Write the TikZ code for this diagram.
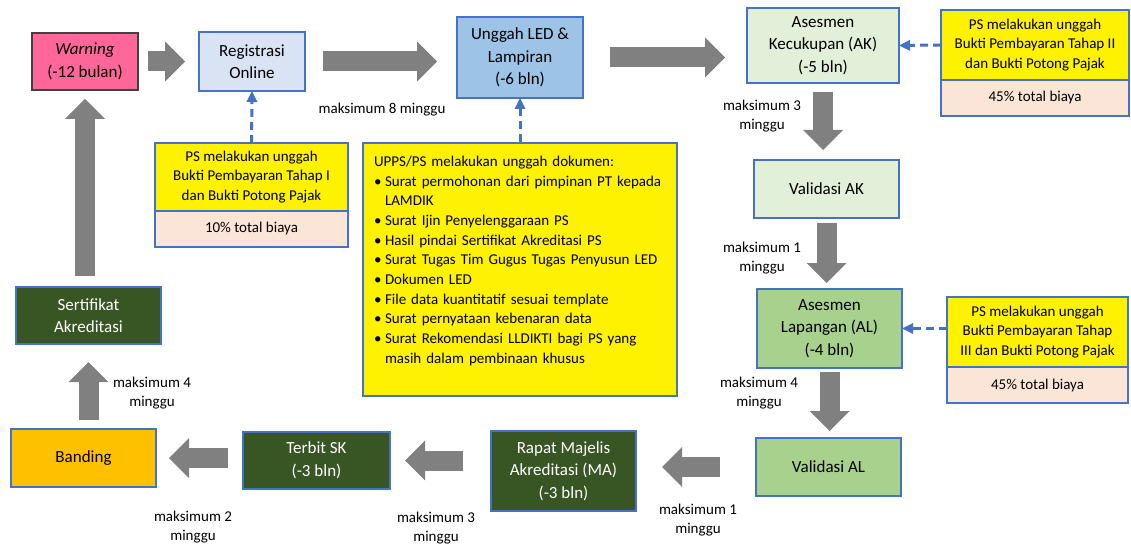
\documentclass[tikz,border=0pt]{standalone}
\usepackage{fontspec}
\setmainfont{Carlito}
\usepackage{tikz}
\usetikzlibrary{arrows.meta,positioning,calc}

\definecolor{boxblue}{RGB}{68,114,196}
\definecolor{pinkred}{RGB}{255,102,153}
\definecolor{paleblue}{RGB}{218,227,243}
\definecolor{midblue}{RGB}{157,195,230}
\definecolor{palegreen}{RGB}{226,240,217}
\definecolor{midgreen}{RGB}{169,209,142}
\definecolor{darkgreen}{RGB}{55,86,35}
\definecolor{amber}{RGB}{255,192,0}
\definecolor{peach}{RGB}{251,229,214}
\definecolor{arrowgray}{RGB}{128,128,128}

\newcommand{\boxfont}{\fontsize{17}{22.5}\selectfont}
\newcommand{\notefont}{\fontsize{15}{19.5}\selectfont}
\newcommand{\listfont}{\fontsize{15}{19.7}\selectfont}
\newcommand{\bitem}{\makebox[11pt][l]{\textbullet}}

\begin{document}
\begin{tikzpicture}[x=1pt,y=-1pt,
    stage/.style={draw=boxblue,line width=1.5pt,align=center,font=\boxfont,inner sep=0pt,outer sep=0pt},
    payment/.style={draw=boxblue,line width=1.5pt,fill=yellow,align=center,font=\notefont,inner sep=0pt,outer sep=0pt},
    share/.style={draw=boxblue,line width=1.5pt,fill=peach,font=\notefont,inner sep=0pt,outer sep=0pt},
    duration/.style={align=center,font=\notefont},
    flow/.style={draw=arrowgray,line width=20pt,-{Triangle[length=20pt,width=40pt,line width=0pt]}},
    upload/.style={draw=boxblue,line width=3pt,dash pattern=on 8pt off 5pt,-{Triangle[length=11pt,width=11pt,line width=0pt]}}]
    \useasboundingbox (0,0) rectangle (1131,545);

    % Top row
    \node[stage,fill=pinkred,draw=black!75,minimum width=106pt,minimum height=57pt] (warn) at (85,61.5) {\textit{Warning}\\(-12 bulan)};
    \node[stage,fill=paleblue,minimum width=106pt,minimum height=59pt] (reg) at (252,61.5) {Registrasi\\Online};
    \node[stage,fill=midblue,minimum width=126pt,minimum height=81pt] (led) at (520,57.5) {Unggah LED \&\\Lampiran\\(-6 bln)};
    \node[stage,fill=palegreen,minimum width=152pt,minimum height=75pt] (ak) at (823,45.5) {Asesmen\\Kecukupan (AK)\\(-5 bln)};

    % Right column
    \node[stage,fill=palegreen,minimum width=145pt,minimum height=58pt] (valak) at (826.5,189) {Validasi AK};
    \node[stage,fill=midgreen,minimum width=145pt,minimum height=79pt] (al) at (829.5,328.5) {Asesmen\\Lapangan (AL)\\(-4 bln)};
    \node[stage,fill=midgreen,minimum width=145pt,minimum height=58pt] (valal) at (828.5,467) {Validasi AL};

    % Bottom row
    \node[stage,fill=darkgreen,text=white,minimum width=145pt,minimum height=80pt] (rapat) at (563.5,471) {Rapat Majelis\\Akreditasi (MA)\\(-3 bln)};
    \node[stage,fill=darkgreen,text=white,minimum width=147pt,minimum height=57pt] (terbit) at (316.5,460.5) {Terbit SK\\(-3 bln)};
    \node[stage,fill=amber,minimum width=145pt,minimum height=58pt] (banding) at (83.5,458) {Banding};
    \node[stage,fill=darkgreen,text=white,minimum width=145pt,minimum height=57pt] (sert) at (88.5,315.5) {Sertifikat\\Akreditasi};

    % Payments
    \node[payment,minimum width=193pt,minimum height=68pt] (pay1) at (251.5,177) {PS melakukan unggah\\Bukti Pembayaran Tahap I\\dan Bukti Potong Pajak};
    \node[share,minimum width=193pt,minimum height=36pt,below=0pt of pay1] (pay1fee) {10\% total biaya};
    \node[payment,minimum width=188pt,minimum height=70pt] (pay2) at (1035,45) {PS melakukan unggah\\Bukti Pembayaran Tahap II\\dan Bukti Potong Pajak};
    \node[share,minimum width=188pt,minimum height=36pt,below=0pt of pay2] (pay2fee) {45\% total biaya};
    \node[payment,minimum width=181pt,minimum height=70pt] (pay3) at (1037.5,332) {PS melakukan unggah\\Bukti Pembayaran Tahap\\III dan Bukti Potong Pajak};
    \node[share,minimum width=181pt,minimum height=36pt,below=0pt of pay3] (pay3fee) {45\% total biaya};

    % Documents
    \node[draw=boxblue,line width=1.5pt,fill=yellow,font=\listfont,align=left,text width=292pt,inner xsep=11pt,inner ysep=0pt,minimum height=253pt] (docs) at (520,269.5)
        {UPPS/PS melakukan unggah dokumen:\\
         \bitem Surat permohonan dari pimpinan PT kepada\\
         \hspace*{11pt}LAMDIK\\
         \bitem Surat Ijin Penyelenggaraan PS\\
         \bitem Hasil pindai Sertifikat Akreditasi PS\\
         \bitem Surat Tugas Tim Gugus Tugas Penyusun LED\\
         \bitem Dokumen LED\\
         \bitem File data kuantitatif sesuai template\\
         \bitem Surat pernyataan kebenaran data\\
         \bitem Surat Rekomendasi LLDIKTI bagi PS yang\\
         \hspace*{11pt}masih dalam pembinaan khusus\\
         \mbox{}};

    % Durations
    \node[duration] (t1) at (382,110) {maksimum 8 minggu};
    \node[duration] (t2) at (762,116) {maksimum 3\\minggu};
    \node[duration] (t3) at (762,258) {maksimum 1\\minggu};
    \node[duration] (t4) at (759,393) {maksimum 4\\minggu};
    \node[duration] (t5) at (698,520) {maksimum 1\\minggu};
    \node[duration] (t6) at (436,528) {maksimum 3\\minggu};
    \node[duration] (t7) at (193,527) {maksimum 2\\minggu};
    \node[duration] (t8) at (152,393) {maksimum 4\\minggu};

    % Flow arrows
    \draw[flow,shorten <=10pt,shorten >=14pt] (warn) -- (reg);
    \draw[flow,shorten <=18pt,shorten >=20pt] (reg.east) -- (reg.east -| led.west);
    \draw[flow,shorten <=27pt,shorten >=22pt] (led.east) -- (led.east -| ak.west);
    \draw[flow,shorten <=9pt,shorten >=10pt] (ak.south) -- (ak.south |- valak.north);
    \draw[flow,shorten <=5pt,shorten >=6pt] (valak.south) -- (valak.south |- al.north);
    \draw[flow,shorten <=4pt,shorten >=7pt] (al.south) -- (al.south |- valal.north);
    \draw[flow,shorten <=36pt,shorten >=26pt] (valal.west) -- (valal.west -| rapat.east);
    \draw[flow,shorten <=28pt,shorten >=15pt] (rapat.west |- terbit.east) -- (terbit.east);
    \draw[flow,shorten <=15pt,shorten >=13pt] (terbit.west |- banding.east) -- (banding.east);
    \draw[flow,shorten <=9pt,shorten >=18pt] (sert.south |- banding.north) -- (sert.south);
    \draw[flow,shorten <=11pt,shorten >=9pt] (warn.south |- sert.north) -- (warn.south);

    % Upload arrows
    \draw[upload] (pay1.north) -- (reg.south);
    \draw[upload] (docs.north) -- (led.south);
    \draw[upload] (pay2.west) -- (ak.east);
    \draw[upload] (pay3.west |- al.east) -- (al.east);
\end{tikzpicture}
\end{document}
